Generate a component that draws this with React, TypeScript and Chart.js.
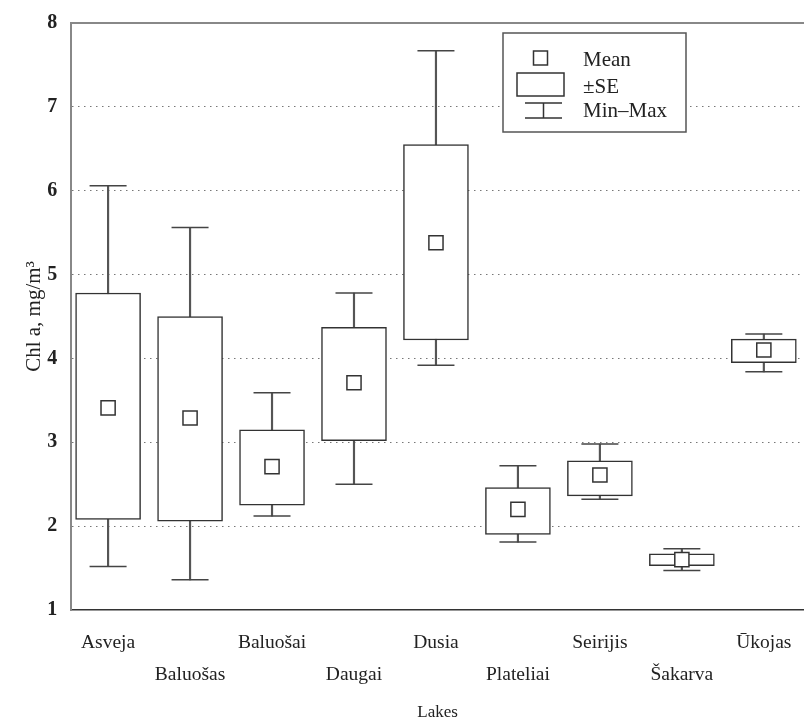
import React, { useEffect, useRef } from "react";
import { Chart, registerables } from "chart.js";

Chart.register(...registerables);

const LAKES = ["Asveja", "Baluošas", "Baluošai", "Daugai", "Dusia", "Plateliai", "Seirijis", "Šakarva", "Ūkojas"];
const MEAN = [3.41, 3.29, 2.71, 3.71, 5.38, 2.2, 2.61, 1.6, 4.1];
const SE_LOW = [2.08, 2.06, 2.25, 3.02, 4.22, 1.9, 2.36, 1.53, 3.95];
const SE_HIGH = [4.78, 4.5, 3.15, 4.37, 6.55, 2.46, 2.78, 1.67, 4.23];
const MIN = [1.52, 1.36, 2.12, 2.5, 3.92, 1.81, 2.32, 1.47, 3.84];
const MAX = [6.06, 5.56, 3.59, 4.78, 7.67, 2.72, 2.98, 1.73, 4.29];
const Y_TICKS = [1, 2, 3, 4, 5, 6, 7, 8];
const LEGEND_LABELS = ["Mean", "±SE", "Min–Max"];

const FONT = "'Liberation Serif', 'DejaVu Serif', serif";

const legendPlugin = {
  id: "boxLegend",
  afterDraw(chart: any) {
    const { ctx, chartArea: a } = chart;
    const x0 = a.right - 301;
    const y0 = a.top + 10;
    const w = 183;
    const h = 99;
    ctx.save();
    ctx.fillStyle = "#fff";
    ctx.fillRect(x0, y0, w, h);
    ctx.strokeStyle = "#555";
    ctx.lineWidth = 1.5;
    ctx.strokeRect(x0, y0, w, h);
    ctx.strokeStyle = "#333";
    ctx.lineWidth = 1.5;
    ctx.strokeRect(x0 + 30.5, y0 + 18, 14, 14);
    ctx.strokeRect(x0 + 14, y0 + 40, 47, 23);
    ctx.beginPath();
    ctx.moveTo(x0 + 22, y0 + 70);
    ctx.lineTo(x0 + 59, y0 + 70);
    ctx.moveTo(x0 + 22, y0 + 85);
    ctx.lineTo(x0 + 59, y0 + 85);
    ctx.moveTo(x0 + 40.5, y0 + 70);
    ctx.lineTo(x0 + 40.5, y0 + 85);
    ctx.stroke();
    ctx.fillStyle = "#222";
    ctx.font = `21px ${FONT}`;
    ctx.textBaseline = "alphabetic";
    ctx.textAlign = "left";
    ctx.fillText(LEGEND_LABELS[0], x0 + 80, y0 + 33);
    ctx.fillText(LEGEND_LABELS[1], x0 + 80, y0 + 60);
    ctx.fillText(LEGEND_LABELS[2], x0 + 80, y0 + 84);
    ctx.restore();
  },
};

export default function App() {
  const ref = useRef<HTMLCanvasElement | null>(null);

  useEffect(() => {
    if (!ref.current) return;
    Chart.defaults.font.family = FONT;
    const idx = LAKES.map((_, i) => i);
    const chart = new Chart(ref.current, {
      type: "bar",
      data: {
        datasets: [
          {
            type: "line",
            label: "Mean",
            data: idx.map((i) => ({ x: i, y: MEAN[i] })),
            showLine: false,
            pointStyle: "rect",
            pointRadius: 10,
            pointBackgroundColor: "#fff",
            pointBorderColor: "#333",
            pointBorderWidth: 1.5,
            order: 0,
          } as any,
          {
            type: "line",
            label: "Max",
            data: idx.map((i) => ({ x: i, y: MAX[i] })),
            showLine: false,
            pointStyle: "line",
            pointRadius: 18.5,
            pointBorderColor: "#444",
            pointBorderWidth: 1.5,
            order: 1,
          } as any,
          {
            type: "line",
            label: "Min",
            data: idx.map((i) => ({ x: i, y: MIN[i] })),
            showLine: false,
            pointStyle: "line",
            pointRadius: 18.5,
            pointBorderColor: "#444",
            pointBorderWidth: 1.5,
            order: 1,
          } as any,
          {
            type: "bar",
            label: "±SE",
            data: idx.map((i) => ({ x: i, y: [SE_LOW[i], SE_HIGH[i]] })),
            backgroundColor: "#fff",
            borderColor: "#333",
            borderWidth: 1.5,
            borderSkipped: false,
            barThickness: 65,
            grouped: false,
            order: 2,
          } as any,
          {
            type: "bar",
            label: "Min–Max",
            data: idx.map((i) => ({ x: i, y: [MIN[i], MAX[i]] })),
            backgroundColor: "#555",
            borderWidth: 0,
            barThickness: 1.5,
            grouped: false,
            order: 3,
          } as any,
        ],
      },
      options: {
        animation: false,
        responsive: false,
        devicePixelRatio: 1,
        events: [],
        layout: { autoPadding: false, padding: { top: 23, left: 0, right: 0, bottom: 0 } },
        plugins: {
          legend: { display: false },
          tooltip: { enabled: false },
        },
        scales: {
          x: {
            type: "linear",
            min: -0.45,
            max: 8.49,
            offset: false,
            afterBuildTicks: (scale: any) => {
              scale.ticks = idx.map((i) => ({ value: i }));
            },
            afterFit: (scale: any) => {
              scale.paddingLeft = 0;
              scale.paddingRight = 0;
            },
            ticks: {
              autoSkip: false,
              maxRotation: 0,
              padding: 0,
              color: "#222",
              font: { size: 19.5, family: FONT, lineHeight: 32 / 19.5 },
              callback: (value: any) => {
                const i = Math.round(Number(value));
                const name = LAKES[i] ?? "";
                return i % 2 === 0 ? [name] : ["", name];
              },
            },
            grid: {
              display: true,
              drawOnChartArea: false,
              drawTicks: true,
              tickLength: 17,
              color: "transparent",
              tickColor: "transparent",
              offset: false,
            },
            border: { display: true, color: "#333", width: 1.5 },
            title: {
              display: true,
              text: "Lakes",
              color: "#222",
              font: { size: 17, family: FONT, lineHeight: 1 },
              padding: { top: 13.5, bottom: 1.5 },
            },
          },
          y: {
            type: "linear",
            min: 1,
            max: 8,
            afterBuildTicks: (scale: any) => {
              scale.ticks = Y_TICKS.map((v) => ({ value: v }));
            },
            ticks: {
              padding: 0,
              color: "#222",
              font: { size: 20, weight: "bold", family: FONT, lineHeight: 1.2 },
            },
            grid: {
              drawTicks: true,
              tickLength: 14,
              tickColor: "transparent",
              color: (c: any) => {
                const v = c.tick ? c.tick.value : null;
                if (v === 8) return "#888";
                if (v === 1) return "transparent";
                return "#777";
              },
              lineWidth: (c: any) => (c.tick && c.tick.value === 8 ? 2 : 1),
            },
            border: {
              display: true,
              color: "#888",
              width: 2,
              dash: (c: any) => (c.tick && c.tick.value !== 8 ? [1.5, 4.5] : []),
            },
            title: {
              display: true,
              text: "Chl a, mg/m³",
              color: "#222",
              font: { size: 21, family: FONT, lineHeight: 1.2 },
              padding: { top: 22, bottom: 0 },
            },
          },
        },
      },
      plugins: [legendPlugin],
    } as any);
    return () => chart.destroy();
  }, []);

  return (
    <div style={{ position: "absolute", left: 0, top: 0, width: 804, height: 723 }}>
      <canvas ref={ref} width={804} height={723} style={{ display: "block" }} />
    </div>
  );
}
